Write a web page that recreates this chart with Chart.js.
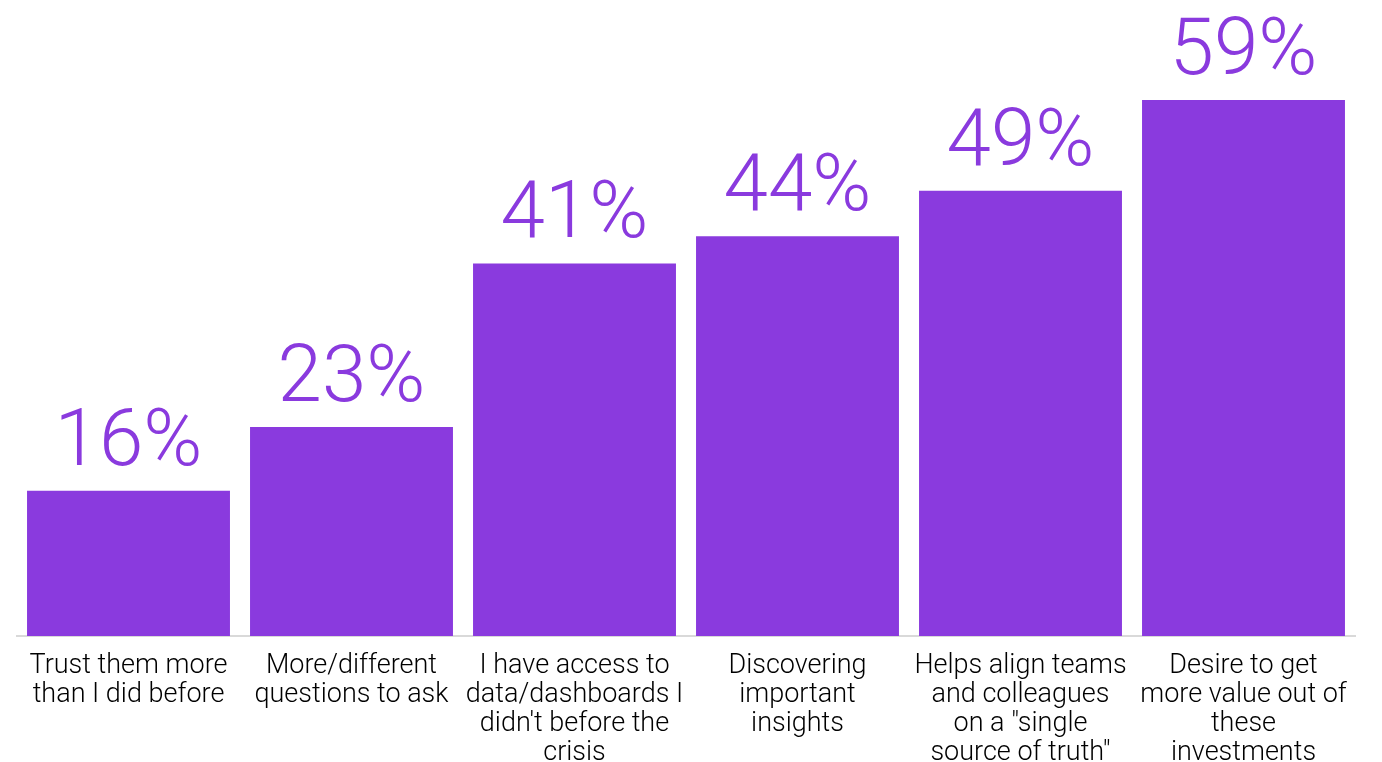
<!DOCTYPE html>
<html>
<head>
<meta charset="utf-8">
<script src="https://cdn.jsdelivr.net/npm/chart.js@4"></script>
<style>
  html, body { margin: 0; padding: 0; background: #fff; }
  #wrap { width: 1382px; height: 762px; }
</style>
</head>
<body>
<div id="wrap"><canvas id="chart"></canvas></div>
<script>
// data
const categories = [
  ['Trust them more', 'than I did before'],
  ['More/different', 'questions to ask'],
  ['I have access to', 'data/dashboards I', "didn't before the", 'crisis'],
  ['Discovering', 'important', 'insights'],
  ['Helps align teams', 'and colleagues', 'on a "single', 'source of truth"'],
  ['Desire to get', 'more value out of', 'these', 'investments']
]
const values = [16, 23, 41, 44, 49, 59]

const PURPLE = '#8a3ade'

// value labels above bars
const valueLabels = {
  id: 'valueLabels',
  afterDatasetsDraw(chart) {
    const { ctx } = chart
    const meta = chart.getDatasetMeta(0)
    ctx.save()
    ctx.fillStyle = PURPLE
    ctx.font = '300 80px Roboto'
    ctx.textAlign = 'center'
    ctx.textBaseline = 'alphabetic'
    meta.data.forEach((bar, i) => {
      ctx.fillText(values[i] + '%', bar.x, bar.y - 26)
    })
    ctx.restore()
  }
}

new Chart(document.getElementById('chart'), {
  type: 'bar',
  data: {
    labels: categories,
    datasets: [{
      data: values,
      backgroundColor: PURPLE,
      borderWidth: 0,
      barPercentage: 0.91,
      categoryPercentage: 1
    }]
  },
  options: {
    responsive: true,
    maintainAspectRatio: false,
    animation: false,
    layout: { padding: { left: 17, right: 27, top: 0, bottom: 0 } },
    plugins: { legend: { display: false }, tooltip: { enabled: false } },
    scales: {
      x: {
        grid: { display: false, drawTicks: false },
        border: { display: true, color: '#d9d9d9', width: 2 },
        ticks: {
          color: '#000',
          padding: 16,
          maxRotation: 0,
          autoSkip: false,
          font: { family: 'Roboto', size: 27, weight: '300', lineHeight: '29px' }
        },
        afterFit(scale) { scale.height = 126 }
      },
      y: {
        display: false,
        min: 0,
        max: 70
      }
    }
  },
  plugins: [valueLabels]
})
</script>
</body>
</html>
